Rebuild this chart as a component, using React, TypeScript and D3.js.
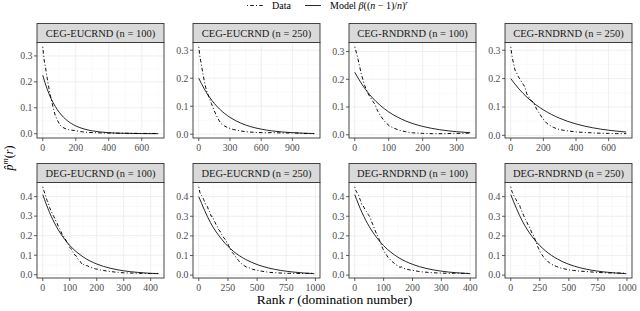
import React from "react";
import * as d3 from "d3";

// panel titles, row by row
const panelTitles = [
  "CEG-EUCRND (n = 100)",
  "CEG-EUCRND (n = 250)",
  "CEG-RNDRND (n = 100)",
  "CEG-RNDRND (n = 250)",
  "DEG-EUCRND (n = 100)",
  "DEG-EUCRND (n = 250)",
  "DEG-RNDRND (n = 100)",
  "DEG-RNDRND (n = 250)",
];

// x tick labels per panel
const xTicksTop = [
  [0, 200, 400, 600],
  [0, 300, 600, 900],
  [0, 100, 200, 300],
  [0, 200, 400, 600],
];
const xTicksBottom = [
  [0, 100, 200, 300, 400],
  [0, 250, 500, 750, 1000],
  [0, 100, 200, 300, 400],
  [0, 250, 500, 750, 1000],
];
const yTicksTop = [0, 0.1, 0.2, 0.3];
const yTicksBottom = [0, 0.1, 0.2, 0.3, 0.4];

type Pt = [number, number];

// observed p-hat^m(r), [rank r, value]
const dataCegEuc100: Pt[] = [
  [0, 0.335], [4, 0.31], [8, 0.285], [16, 0.258], [25, 0.22], [36, 0.18], [45, 0.15],
  [55, 0.123], [65, 0.095], [75, 0.072], [90, 0.05], [105, 0.033], [120, 0.025],
  [135, 0.02], [160, 0.015], [194, 0.012], [230, 0.008], [273, 0.005], [320, 0.004],
  [352, 0.003], [420, 0.002], [500, 0.002], [600, 0.001], [690, 0.001],
];
const dataCegEuc250: Pt[] = [
  [0, 0.312], [10, 0.28], [25, 0.248], [40, 0.215], [57, 0.182], [75, 0.155], [96, 0.134],
  [121, 0.11], [145, 0.087], [169, 0.067], [193, 0.05], [217, 0.037], [250, 0.029],
  [281, 0.023], [330, 0.017], [409, 0.011], [480, 0.008], [568, 0.006], [650, 0.005],
  [700, 0.006], [823, 0.004], [900, 0.005], [1000, 0.003], [1110, 0.002],
];
const dataCegRnd100: Pt[] = [
  [0, 0.317], [5, 0.295], [10, 0.27], [19, 0.22], [29, 0.178], [39, 0.148], [46, 0.135],
  [53, 0.121], [58, 0.112], [61, 0.105], [65, 0.092], [68, 0.084], [75, 0.07], [83, 0.056],
  [92, 0.043], [102, 0.032], [115, 0.024], [131, 0.016], [150, 0.011], [170, 0.007],
  [200, 0.005], [229, 0.004], [260, 0.004], [287, 0.005], [310, 0.005], [338, 0.006],
];
const dataCegRnd250: Pt[] = [
  [0, 0.312], [6, 0.285], [12, 0.266], [20, 0.245], [26, 0.23], [35, 0.222], [47, 0.206],
  [57, 0.198], [67, 0.188], [78, 0.178], [88, 0.17], [93, 0.158], [98, 0.146], [108, 0.138],
  [118, 0.128], [128, 0.122], [139, 0.116], [149, 0.104], [159, 0.092], [175, 0.078],
  [190, 0.064], [205, 0.053], [220, 0.043], [240, 0.035], [261, 0.028], [290, 0.022],
  [322, 0.018], [360, 0.015], [404, 0.012], [460, 0.01], [527, 0.008], [600, 0.007],
  [650, 0.006], [708, 0.006],
];
const dataDegEuc100: Pt[] = [
  [0, 0.45], [4, 0.43], [8, 0.415], [12, 0.396], [16, 0.38], [20, 0.37], [25, 0.345],
  [31, 0.326], [36, 0.31], [40, 0.3], [44, 0.29], [49, 0.273], [53, 0.265], [58, 0.245],
  [63, 0.235], [68, 0.22], [72, 0.205], [77, 0.198], [82, 0.185], [86, 0.177], [90, 0.16],
  [95, 0.155], [100, 0.14], [105, 0.133], [110, 0.118], [114, 0.112], [119, 0.1],
  [123, 0.098], [128, 0.085], [133, 0.075], [138, 0.068], [142, 0.063], [147, 0.05],
  [152, 0.052], [157, 0.045], [162, 0.047], [167, 0.045], [175, 0.038], [185, 0.035],
  [195, 0.03], [204, 0.028], [215, 0.024], [225, 0.022], [240, 0.018], [253, 0.016],
  [265, 0.014], [280, 0.012], [298, 0.01], [315, 0.009], [340, 0.008], [360, 0.007],
  [377, 0.007], [400, 0.006], [428, 0.007],
];
const dataDegEuc250: Pt[] = [
  [0, 0.45], [10, 0.42], [20, 0.41], [31, 0.4], [42, 0.385], [52, 0.37], [63, 0.355],
  [74, 0.35], [85, 0.33], [96, 0.32], [106, 0.3], [117, 0.3], [128, 0.28], [139, 0.27],
  [150, 0.255], [160, 0.247], [171, 0.23], [182, 0.225], [192, 0.21], [203, 0.203],
  [214, 0.19], [224, 0.185], [235, 0.17], [245, 0.168], [256, 0.15], [266, 0.14],
  [277, 0.128], [288, 0.115], [299, 0.108], [310, 0.1], [320, 0.09], [331, 0.08],
  [342, 0.075], [352, 0.065], [363, 0.06], [374, 0.054], [390, 0.048], [405, 0.042],
  [431, 0.037], [460, 0.03], [490, 0.026], [516, 0.023], [560, 0.018], [610, 0.014],
  [659, 0.012], [720, 0.01], [780, 0.009], [830, 0.009], [880, 0.008], [940, 0.009],
  [990, 0.01],
];
const dataDegRnd100: Pt[] = [
  [0, 0.45], [4, 0.43], [8, 0.42], [13, 0.41], [17, 0.39], [20, 0.38], [24, 0.36],
  [28, 0.355], [32, 0.345], [36, 0.334], [40, 0.325], [43, 0.32], [47, 0.308], [51, 0.3],
  [54, 0.29], [58, 0.273], [62, 0.26], [66, 0.245], [70, 0.229], [74, 0.215], [78, 0.205],
  [81, 0.194], [85, 0.18], [89, 0.165], [93, 0.15], [97, 0.135], [100, 0.128],
  [104, 0.115], [108, 0.108], [112, 0.098], [116, 0.089], [120, 0.085], [125, 0.075],
  [130, 0.068], [135, 0.063], [140, 0.055], [146, 0.05], [150, 0.046], [156, 0.04],
  [162, 0.042], [170, 0.034], [180, 0.03], [192, 0.026], [205, 0.023], [220, 0.019],
  [236, 0.016], [255, 0.014], [270, 0.012], [287, 0.011], [305, 0.01], [330, 0.009],
  [350, 0.01], [372, 0.009], [399, 0.009],
];
const dataDegRnd250: Pt[] = [
  [0, 0.45], [8, 0.43], [15, 0.42], [23, 0.41], [30, 0.4], [38, 0.39], [46, 0.386],
  [53, 0.375], [60, 0.37], [68, 0.36], [75, 0.36], [82, 0.345], [89, 0.335], [96, 0.325],
  [103, 0.316], [110, 0.305], [118, 0.295], [125, 0.285], [132, 0.281], [139, 0.27],
  [146, 0.26], [154, 0.252], [161, 0.247], [168, 0.235], [175, 0.225], [182, 0.215],
  [190, 0.211], [197, 0.2], [204, 0.19], [211, 0.18], [218, 0.168], [225, 0.158],
  [232, 0.145], [240, 0.135], [247, 0.124], [258, 0.112], [268, 0.105], [279, 0.095],
  [290, 0.089], [301, 0.08], [312, 0.075], [322, 0.068], [333, 0.063], [350, 0.056],
  [370, 0.05], [391, 0.045], [420, 0.038], [450, 0.034], [491, 0.028], [540, 0.024],
  [590, 0.021], [635, 0.019], [700, 0.016], [750, 0.014], [807, 0.012], [870, 0.011],
  [930, 0.011], [994, 0.01],
];

// fitted model curve values
const modelCegEuc100: Pt[] = [
  [0, 0.225], [25, 0.175], [50, 0.136], [75, 0.106], [100, 0.0824], [150, 0.0498],
  [200, 0.0302], [250, 0.0183], [300, 0.011], [400, 0.004], [500, 0.0015], [600, 0.0005],
  [700, 0.0002],
];
const modelCegEuc250: Pt[] = [
  [0, 0.2], [50, 0.1637], [100, 0.134], [150, 0.1096], [200, 0.0898], [300, 0.0602],
  [400, 0.0403], [500, 0.027], [600, 0.0181], [700, 0.0121], [800, 0.0081], [900, 0.0055],
  [1000, 0.0037], [1110, 0.0024],
];
const modelCegRnd100: Pt[] = [
  [0, 0.225], [25, 0.175], [50, 0.136], [75, 0.106], [100, 0.0824], [150, 0.0498],
  [200, 0.0302], [250, 0.0183], [300, 0.011], [340, 0.0074],
];
const modelCegRnd250: Pt[] = [
  [0, 0.2], [50, 0.1637], [100, 0.134], [150, 0.1096], [200, 0.0898], [300, 0.0602],
  [400, 0.0403], [500, 0.027], [600, 0.0181], [708, 0.0118],
];
const modelDegEuc100: Pt[] = [
  [0, 0.41], [25, 0.319], [50, 0.248], [75, 0.193], [100, 0.15], [150, 0.0908],
  [200, 0.055], [250, 0.0333], [300, 0.0201], [350, 0.0122], [428, 0.0055],
];
const modelDegEuc250: Pt[] = [
  [0, 0.4], [100, 0.268], [200, 0.18], [300, 0.12], [400, 0.0807], [500, 0.054],
  [600, 0.0362], [700, 0.0243], [800, 0.0163], [900, 0.0109], [990, 0.0075],
];
const modelDegRnd100: Pt[] = [
  [0, 0.41], [25, 0.319], [50, 0.248], [75, 0.193], [100, 0.15], [150, 0.0908],
  [200, 0.055], [250, 0.0333], [300, 0.0201], [350, 0.0122], [400, 0.0074],
];
const modelDegRnd250: Pt[] = [
  [0, 0.41], [100, 0.275], [200, 0.184], [300, 0.1235], [400, 0.0827], [500, 0.0554],
  [600, 0.0371], [700, 0.0249], [800, 0.0167], [900, 0.0112], [994, 0.0077],
];

const dataSeries = [
  dataCegEuc100, dataCegEuc250, dataCegRnd100, dataCegRnd250,
  dataDegEuc100, dataDegEuc250, dataDegRnd100, dataDegRnd250,
];
const modelSeries = [
  modelCegEuc100, modelCegEuc250, modelCegRnd100, modelCegRnd250,
  modelDegEuc100, modelDegEuc250, modelDegRnd100, modelDegRnd250,
];

const W = 640;
const H = 311;
const FONT = "'Liberation Serif', 'Times New Roman', serif";
const panelW = 127;
const plotH = 95.5;
const stripH = 19;
const rowPlotTop = [42.5, 182.5];
const colLeft = [37, 193, 349, 505];

const dotdash = "1,2.2,3.6,2.2";

function expand(lo: number, hi: number): [number, number] {
  const d = (hi - lo) * 0.05;
  return [lo - d, hi + d];
}

function minors(ticks: number[], dom: [number, number]) {
  const step = ticks[1] - ticks[0];
  const out: number[] = [];
  for (let i = -1; i < ticks.length; i++) {
    const m = ticks[0] + (i + 0.5) * step;
    if (m >= dom[0] && m <= dom[1]) out.push(m);
  }
  return out;
}

function Panel({ idx }: { idx: number }) {
  const row = idx < 4 ? 0 : 1;
  const col = idx % 4;
  const x0 = colLeft[col];
  const y0 = rowPlotTop[row];
  const data = dataSeries[idx];
  const model = modelSeries[idx];
  const all = data.concat(model);
  const xTicks = row === 0 ? xTicksTop[col] : xTicksBottom[col];
  const yTicks = row === 0 ? yTicksTop : yTicksBottom;

  const xDom = expand(0, d3.max(all, (d) => d[0])!);
  const yDom = expand(d3.min(all, (d) => d[1])!, d3.max(all, (d) => d[1])!);
  const x = d3.scaleLinear().domain(xDom).range([0, panelW]);
  const y = d3.scaleLinear().domain(yDom).range([plotH, 0]);

  const dataLine = d3.line<Pt>().x((d) => x(d[0])).y((d) => y(d[1]));
  const modelLine = d3
    .line<Pt>()
    .x((d) => x(d[0]))
    .y((d) => y(d[1]))
    .curve(d3.curveMonotoneX);

  const xMin = minors(xTicks, xDom);
  const yMin = minors(yTicks, yDom);

  return (
    <g transform={`translate(${x0},${y0})`}>
      <rect x={0} y={0} width={panelW} height={plotH} fill="#fff" />
      {xMin.map((v) => (
        <line key={"xm" + v} x1={x(v)} x2={x(v)} y1={0} y2={plotH} stroke="#F2F2F2" strokeWidth={0.4} />
      ))}
      {yMin.map((v) => (
        <line key={"ym" + v} x1={0} x2={panelW} y1={y(v)} y2={y(v)} stroke="#F2F2F2" strokeWidth={0.4} />
      ))}
      {xTicks.map((v) => (
        <line key={"xg" + v} x1={x(v)} x2={x(v)} y1={0} y2={plotH} stroke="#EBEBEB" strokeWidth={0.8} />
      ))}
      {yTicks.map((v) => (
        <line key={"yg" + v} x1={0} x2={panelW} y1={y(v)} y2={y(v)} stroke="#EBEBEB" strokeWidth={0.8} />
      ))}
      <path d={modelLine(model)!} fill="none" stroke="#000" strokeWidth={0.85} />
      <path d={dataLine(data)!} fill="none" stroke="#000" strokeWidth={0.95} strokeDasharray={dotdash} />
      <rect x={0} y={0} width={panelW} height={plotH} fill="none" stroke="#333" strokeWidth={0.9} />
      {/* strip */}
      <rect x={0} y={-stripH} width={panelW} height={stripH} fill="#D9D9D9" stroke="#333" strokeWidth={0.9} />
      <text x={panelW / 2} y={-stripH / 2 + 3.6} textAnchor="middle" fontSize={10.5} fill="#1A1A1A">
        {panelTitles[idx]}
      </text>
      {/* axes */}
      {xTicks.map((v) => (
        <g key={"xt" + v}>
          <line x1={x(v)} x2={x(v)} y1={plotH} y2={plotH + 3} stroke="#333" strokeWidth={0.8} />
          <text x={x(v)} y={plotH + 12.5} textAnchor="middle" fontSize={9.8} fill="#4D4D4D">
            {v}
          </text>
        </g>
      ))}
      {yTicks.map((v) => (
        <g key={"yt" + v}>
          <line x1={-3} x2={0} y1={y(v)} y2={y(v)} stroke="#333" strokeWidth={0.8} />
          <text x={-4.5} y={y(v) + 3.3} textAnchor="end" fontSize={9.8} fill="#4D4D4D">
            {v.toFixed(1)}
          </text>
        </g>
      ))}
    </g>
  );
}

export default function App() {
  return (
    <svg
      width={W}
      height={H}
      style={{ position: "absolute", left: 0, top: 0, display: "block", fontFamily: FONT }}
    >
      <rect width={W} height={H} fill="#fff" />
      {panelTitles.map((_, i) => (
        <Panel key={i} idx={i} />
      ))}
      {/* legend */}
      <line x1={247} x2={263} y1={5.5} y2={5.5} stroke="#000" strokeWidth={0.9} strokeDasharray={dotdash} />
      <text x={272} y={9} fontSize={10} fill="#000">Data</text>
      <line x1={305} x2={321} y1={5.5} y2={5.5} stroke="#000" strokeWidth={0.85} />
      <text x={330} y={9} fontSize={10} fill="#000">
        Model <tspan fontStyle="italic">β</tspan>((<tspan fontStyle="italic">n</tspan> − 1)/<tspan fontStyle="italic">n</tspan>)
        <tspan fontStyle="italic" fontSize={7} dy={-4}>r</tspan>
      </text>
      {/* axis titles */}
      <text x={334.5} y={304} textAnchor="middle" fontSize={13.5} fill="#000">
        Rank <tspan fontStyle="italic">r</tspan> (domination number)
      </text>
      <text transform="translate(12.5,158) rotate(-90)" textAnchor="middle" fontSize={12} fill="#000">
        <tspan fontStyle="italic">p̂</tspan>
        <tspan fontStyle="italic" fontSize={8.5} dy={-4.5}>m</tspan>
        <tspan dy={4.5}>(</tspan>
        <tspan fontStyle="italic">r</tspan>)
      </text>
    </svg>
  );
}
